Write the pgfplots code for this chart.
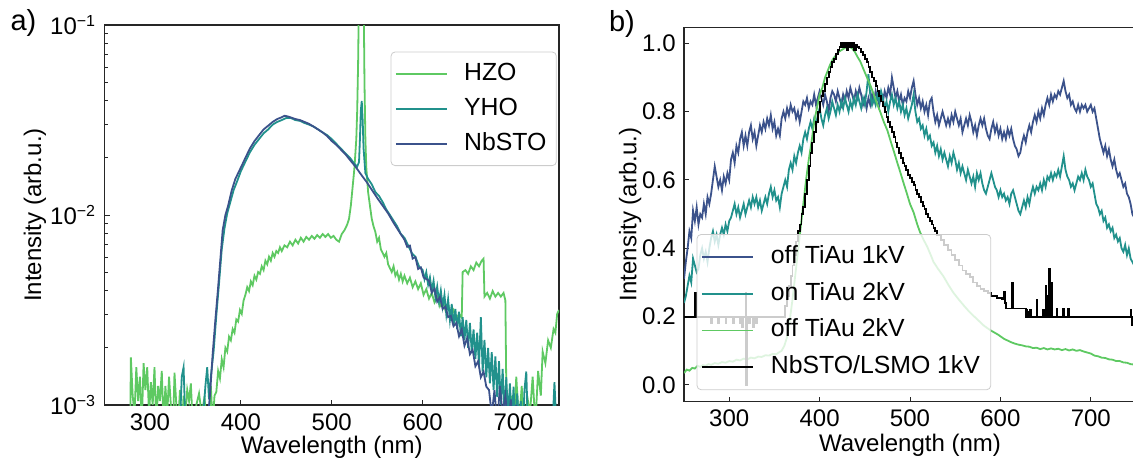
\documentclass[border=0pt]{standalone}
\usepackage{fontspec}
\setmainfont{Liberation Sans}
\usepackage{pgfplots}
\pgfplotsset{compat=1.18}

\definecolor{vblue}{HTML}{3B528B}
\definecolor{vteal}{HTML}{21918C}
\definecolor{vgreen}{HTML}{5EC962}

\pgfplotsset{
  panel/.style={
    scale only axis,
    anchor=south west,
    xmin=250, xmax=750,
    xtick={300,400,500,600,700},
    tick pos=left,
    tick align=inside,
    major tick length=2.6pt,
    minor tick length=1.5pt,
    axis line style={black!85, line width=0.6pt},
    every tick/.style={black!85, line width=0.5pt},
    /pgf/number format/assume math mode=true,
    xlabel={Wavelength (nm)},
    ylabel={Intensity (arb.u.)},
    legend cell align=left,
    legend image code/.code={\draw[##1, line width=0.9pt] (0cm,0cm) -- (0.9cm,0cm);},
    legend style={draw=black!20, fill=white, fill opacity=0.8, text opacity=1,
      rounded corners=2pt, inner sep=2pt, font=\fontsize{12.4}{14}\selectfont,
      nodes={inner sep=3pt, text height=9pt, text depth=2.6pt},
      /tikz/every odd column/.append style={column sep=5pt}},
    every axis plot/.append style={line width=0.9pt},
  },
}

\begin{document}
\fontsize{12}{14}\selectfont
\begin{tikzpicture}[x=1pt,y=1pt]
\useasboundingbox (0,0) rectangle (566.5,230.5);

\node[font=\fontsize{14.5}{16}\selectfont] at (11.75,219) {a)};
\node[font=\fontsize{14.5}{16}\selectfont] at (311,218.75) {b)};

% ---------------- a) log panel ----------------
\begin{axis}[panel,
  at={(52.25pt,28pt)}, width=227.25pt, height=190pt,
  ymode=log, ymin=1e-3, ymax=1e-1,
  ytick={1e-3,1e-2,1e-1},
  yticklabels={10\textsuperscript{−3},10\textsuperscript{−2},10\textsuperscript{−1}},
  minor ytick={2e-3,3e-3,4e-3,5e-3,6e-3,7e-3,8e-3,9e-3,2e-2,3e-2,4e-2,5e-2,6e-2,7e-2,8e-2,9e-2},
  xlabel style={at={(axis description cs:0.5,-0.1105)}, anchor=center},
  ylabel style={at={(axis description cs:-0.153,0.5)}, anchor=center},
  legend style={at={(0.995,0.93)}, anchor=north east},
]
% HZO
\addplot[vgreen] coordinates {
(278,5.0e-4) (279,1.78e-3) (281,1.12e-3) (283,8.9e-4) (285,1.58e-3) (287,1.05e-3) (289,1.41e-3) (291,7.9e-4)
(293,1.66e-3) (295,1.2e-3) (297,1.58e-3) (299,8.9e-4) (301,1.32e-3) (303,1.0e-3) (305,1.58e-3) (307,7.9e-4)
(309,1.26e-3) (311,1.05e-3) (313,1.51e-3) (315,7.9e-4) (317,1.26e-3) (319,8.9e-4) (321,1.41e-3) (323,1.0e-3)
(325,6.3e-4) (327,1.48e-3) (329,1.0e-3) (331,7.9e-4) (333,1.2e-3) (335,7.1e-4) (337,1.12e-3) (339,8.9e-4)
(341,1.2e-3) (343,1.05e-3) (345,1.3e-3) (348,6.3e-4) (351,1.0e-3) (354,1.15e-3) (357,8.9e-4) (360,1.1e-3)
(363,7.5e-4) (365,7.1e-4) (367,1.26e-3) (369,7.9e-4) (371,1.12e-3) (373,1.17e-3) (375,1.51e-3) (377,1.38e-3)
(379,1.74e-3) (381,1.58e-3) (383,2.0e-3) (385,1.91e-3) (387,2.29e-3) (389,2.19e-3) (391,2.51e-3) (393,2.4e-3)
(395,2.82e-3) (397,2.75e-3) (399,3.16e-3) (401,3.02e-3) (403,3.55e-3) (405,3.8e-3) (407,4.17e-3) (409,3.98e-3)
(411,4.47e-3) (413,4.27e-3) (415,4.79e-3) (417,4.57e-3) (419,5.01e-3) (421,4.9e-3) (423,5.37e-3) (425,5.13e-3)
(427,5.75e-3) (429,5.5e-3) (431,6.03e-3) (433,5.75e-3) (435,6.31e-3) (437,6.03e-3) (439,6.46e-3) (441,6.31e-3)
(443,6.76e-3) (445,6.46e-3) (448,6.92e-3) (451,6.76e-3) (454,7.24e-3) (457,6.92e-3) (460,7.41e-3) (463,7.08e-3)
(466,7.59e-3) (469,7.24e-3) (472,7.67e-3) (475,7.41e-3) (478,7.76e-3) (481,7.5e-3) (484,7.85e-3) (487,7.59e-3)
(490,7.94e-3) (493,7.67e-3) (496,7.94e-3) (499,7.59e-3) (502,7.76e-3) (505,7.41e-3) (508,7.24e-3) (511,7.94e-3)
(514,8.32e-3) (517,8.91e-3) (519,9.55e-3) (521,1.12e-2) (523,1.41e-2) (525,1.78e-2) (527,2.51e-2) (528,3.55e-2)
(529,6.31e-2) (530,0.158) (531,0.316) (534,0.316) (535,0.158) (536,5.01e-2) (537,2.51e-2) (538,1.78e-2)
(540,1.32e-2) (542,1.12e-2) (544,9.55e-3) (546,8.71e-3) (548,8.13e-3) (550,7.24e-3) (552,7.59e-3) (554,6.61e-3)
(556,6.31e-3) (558,6.03e-3) (560,6.31e-3) (562,5.5e-3) (564,5.25e-3) (566,5.01e-3) (568,5.37e-3) (570,4.79e-3)
(572,5.01e-3) (574,4.57e-3) (576,4.9e-3) (578,4.47e-3) (580,4.79e-3) (583,4.37e-3) (586,4.68e-3) (589,4.17e-3)
(592,4.47e-3) (595,4.07e-3) (598,4.37e-3) (601,3.8e-3) (604,4.07e-3) (607,3.63e-3) (610,3.89e-3) (613,3.47e-3)
(616,3.72e-3) (619,3.31e-3) (622,3.55e-3) (625,3.16e-3) (628,3.39e-3) (631,2.95e-3) (634,3.16e-3) (637,2.82e-3)
(640,3.02e-3) (643,2.88e-3) (644,5.01e-3) (647,5.13e-3) (650,4.9e-3) (653,5.37e-3) (656,5.13e-3) (659,5.62e-3)
(662,5.37e-3) (665,5.75e-3) (667,5.89e-3) (668,3.72e-3) (671,3.89e-3) (674,3.63e-3) (677,3.98e-3) (680,3.72e-3)
(683,3.89e-3) (686,3.72e-3) (689,3.89e-3) (691,3.55e-3) (692,1.26e-3) (694,6.3e-4) (697,1.12e-3) (700,7.1e-4)
(703,1.41e-3) (706,7.9e-4) (709,1.26e-3) (712,6.3e-4) (715,1.12e-3) (718,8.9e-4) (721,1.41e-3) (724,7.9e-4)
(727,1.51e-3) (730,1.12e-3) (732,1.91e-3) (735,1.66e-3) (738,2.19e-3) (741,2.0e-3) (744,2.51e-3) (746,2.4e-3)
(748,3.02e-3) (750,3.16e-3)
};
\addlegendentry{HZO}
% YHO
\addplot[vteal] coordinates {
(333,7.94e-4) (335,1.41e-3) (337,1.58e-3) (339,7.94e-4) (358,7.94e-4) (361,1.26e-3) (363,1.58e-3) (365,1.07e-3)
(367,1.41e-3) (370,1.91e-3) (373,2.95e-3) (376,4.37e-3) (379,6.61e-3) (382,8.51e-3) (385,1.02e-2) (388,1.15e-2)
(392,1.35e-2) (396,1.51e-2) (400,1.70e-2) (405,1.91e-2) (410,2.14e-2) (415,2.34e-2) (420,2.51e-2) (425,2.69e-2)
(430,2.82e-2) (435,2.99e-2) (440,3.09e-2) (445,3.16e-2) (450,3.24e-2) (455,3.24e-2) (460,3.16e-2) (465,3.13e-2)
(470,3.05e-2) (475,2.99e-2) (480,2.92e-2) (485,2.82e-2) (490,2.72e-2) (495,2.63e-2) (500,2.51e-2) (505,2.37e-2)
(510,2.24e-2) (515,2.11e-2) (520,2.0e-2) (525,1.86e-2) (528,1.8e-2) (530,1.9e-2) (531,2.51e-2) (532,3.55e-2)
(533,3.98e-2) (534,3.16e-2) (535,2.24e-2) (537,1.66e-2) (540,1.55e-2) (544,1.45e-2) (548,1.32e-2) (552,1.26e-2)
(556,1.17e-2) (560,1.07e-2) (564,1.0e-2) (568,9.33e-3) (572,8.71e-3) (576,7.94e-3) (580,7.59e-3) (584,6.92e-3)
(588,6.31e-3) (592,6.03e-3) (596,5.37e-3) (600,5.13e-3) (602,4.6e-3) (604,5.0e-3) (606,4.3e-3) (608,4.7e-3)
(610,4.0e-3) (612,4.5e-3) (614,3.7e-3) (616,4.2e-3) (618,3.5e-3) (620,4.0e-3) (622,3.3e-3) (624,3.8e-3)
(626,3.0e-3) (628,3.6e-3) (630,2.8e-3) (632,3.4e-3) (634,2.6e-3) (636,3.2e-3) (638,2.5e-3) (640,3.1e-3)
(642,2.3e-3) (644,2.9e-3) (646,2.2e-3) (648,2.8e-3) (650,2.0e-3) (652,2.7e-3) (654,1.9e-3) (656,2.5e-3)
(658,1.75e-3) (660,2.4e-3) (662,1.6e-3) (664,2.9e-3) (666,1.5e-3) (668,2.2e-3) (670,1.4e-3) (672,2.0e-3)
(674,1.3e-3) (676,1.9e-3) (678,1.2e-3) (680,1.8e-3) (682,1.1e-3) (684,1.7e-3) (686,1.0e-3) (688,1.55e-3)
(690,9e-4) (692,1.4e-3) (694,8.5e-4) (696,1.3e-3) (698,8e-4) (700,1.25e-3) (702,7.5e-4) (704,1.15e-3)
(706,8e-4) (708,1.05e-3) (710,7e-4) (712,1.2e-3) (714,1.5e-3) (716,7e-4) (720,9e-4) (724,6.5e-4)
(728,8e-4) (732,6.5e-4) (736,8e-4) (740,7e-4) (743,8e-4) (745,1.32e-3) (747,7.9e-4) (750,8.9e-4)
};
\addlegendentry{YHO}
% NbSTO
\addplot[vblue] coordinates {
(364,8.9e-4) (366,1.12e-3) (369,1.86e-3) (372,2.82e-3) (375,4.17e-3) (378,6.31e-3) (380,8.32e-3) (383,1.0e-2)
(386,1.12e-2) (390,1.35e-2) (394,1.55e-2) (397,1.66e-2) (401,1.82e-2) (405,2.0e-2) (410,2.24e-2) (415,2.45e-2)
(420,2.63e-2) (425,2.82e-2) (430,2.95e-2) (435,3.09e-2) (440,3.2e-2) (445,3.27e-2) (448,3.33e-2) (452,3.3e-2)
(456,3.25e-2) (460,3.2e-2) (465,3.16e-2) (470,3.09e-2) (475,3.02e-2) (480,2.92e-2) (485,2.82e-2) (490,2.72e-2)
(495,2.6e-2) (500,2.45e-2) (505,2.34e-2) (510,2.21e-2) (515,2.09e-2) (520,1.95e-2) (526,1.8e-2) (532,1.64e-2)
(538,1.5e-2) (544,1.36e-2) (550,1.23e-2) (556,1.12e-2) (562,1.02e-2) (568,9.1e-3) (574,8.2e-3) (580,7.41e-3)
(583,6.8e-3) (586,6.9e-3) (589,5.9e-3) (592,6.0e-3) (595,5.2e-3) (598,5.3e-3) (601,4.7e-3) (604,4.6e-3)
(607,4.5e-3) (610,3.9e-3) (613,4.1e-3) (616,3.5e-3) (619,3.7e-3) (622,3.2e-3) (625,3.3e-3) (628,2.9e-3)
(631,2.95e-3) (634,2.6e-3) (637,2.7e-3) (640,2.3e-3) (643,2.5e-3) (646,2.05e-3) (649,2.25e-3) (652,1.85e-3)
(655,1.95e-3) (658,1.6e-3) (661,1.7e-3) (664,1.4e-3) (667,1.5e-3) (670,1.25e-3) (673,1.2e-3) (676,8.9e-4)
(679,1.2e-3) (682,7.9e-4) (685,1.26e-3) (688,8.9e-4) (691,1.12e-3) (694,7.9e-4) (697,1.07e-3) (700,7.1e-4)
(703,1.0e-3) (706,6.3e-4)
};
\addlegendentry{NbSTO}
\end{axis}

% ---------------- b) linear panel ----------------
\begin{axis}[panel,
  at={(342pt,29.65pt)}, width=226pt, height=187.2pt,
  ymin=-0.049, ymax=1.047,
  ytick={0,0.2,0.4,0.6,0.8,1.0},
  yticklabel style={/pgf/number format/.cd, fixed, fixed zerofill, precision=1},
  xlabel style={at={(axis description cs:0.5,-0.1157)}, anchor=center},
  ylabel style={at={(axis description cs:-0.119,0.5)}, anchor=center},
  legend style={at={(0.028,0.031)}, anchor=south west,
    nodes={inner sep=3.4pt}},
]
% off TiAu 1kV
\addplot[vblue] coordinates {
(250,0.31) (252,0.36) (254,0.40) (256,0.45) (258,0.43) (260,0.51) (262,0.48) (264,0.52) (266,0.47) (268,0.50)
(270,0.49) (272,0.53) (274,0.50) (276,0.55) (278,0.53) (280,0.56) (282,0.60) (284,0.64) (286,0.61) (288,0.58)
(290,0.60) (292,0.57) (294,0.61) (296,0.59) (298,0.62) (300,0.60) (302,0.66) (304,0.68) (306,0.65) (308,0.70)
(310,0.68) (312,0.72) (314,0.74) (316,0.70) (318,0.73) (320,0.70) (322,0.74) (324,0.76) (326,0.72) (328,0.74)
(330,0.70) (332,0.73) (334,0.76) (336,0.74) (338,0.77) (340,0.75) (342,0.78) (344,0.76) (346,0.79) (348,0.75)
(350,0.77) (352,0.73) (354,0.75) (356,0.73) (358,0.78) (360,0.80) (362,0.78) (364,0.81) (366,0.79) (368,0.82)
(370,0.80) (372,0.81) (374,0.78) (376,0.80) (378,0.77) (380,0.80) (382,0.83) (384,0.82) (386,0.84) (388,0.81)
(390,0.83) (392,0.82) (394,0.85) (396,0.82) (398,0.84) (400,0.86) (402,0.84) (404,0.82) (406,0.85) (408,0.83)
(410,0.80) (412,0.84) (414,0.86) (416,0.85) (418,0.83) (420,0.86) (422,0.84) (424,0.82) (426,0.85) (428,0.83)
(430,0.86) (432,0.84) (434,0.87) (436,0.85) (438,0.83) (440,0.86) (442,0.84) (444,0.87) (446,0.85) (448,0.82)
(450,0.84) (452,0.81) (454,0.84) (456,0.82) (458,0.85) (460,0.83) (462,0.86) (464,0.84) (466,0.82) (468,0.85)
(470,0.83) (472,0.86) (474,0.84) (476,0.87) (478,0.85) (480,0.90) (482,0.87) (484,0.84) (486,0.86) (488,0.83)
(490,0.85) (492,0.82) (494,0.84) (496,0.83) (498,0.86) (500,0.84) (502,0.87) (504,0.89) (506,0.85) (508,0.82)
(510,0.84) (512,0.81) (514,0.83) (516,0.80) (518,0.82) (520,0.79) (522,0.83) (524,0.84) (526,0.80) (528,0.77)
(530,0.79) (532,0.76) (534,0.78) (536,0.80) (538,0.78) (540,0.76) (542,0.78) (544,0.76) (546,0.79) (548,0.77)
(550,0.80) (552,0.78) (554,0.76) (556,0.78) (558,0.74) (560,0.76) (562,0.78) (564,0.76) (566,0.79) (568,0.77)
(570,0.74) (572,0.76) (574,0.73) (576,0.76) (578,0.78) (580,0.76) (582,0.78) (584,0.75) (586,0.73) (588,0.72)
(590,0.75) (592,0.77) (594,0.74) (596,0.76) (598,0.73) (600,0.75) (602,0.72) (604,0.74) (606,0.72) (608,0.75)
(610,0.73) (612,0.75) (614,0.72) (616,0.70) (618,0.69) (620,0.67) (622,0.68) (624,0.71) (626,0.73) (628,0.71)
(630,0.74) (632,0.76) (634,0.74) (636,0.77) (638,0.79) (640,0.77) (642,0.80) (644,0.78) (646,0.81) (648,0.79)
(650,0.82) (652,0.84) (654,0.82) (656,0.85) (658,0.83) (660,0.85) (662,0.84) (664,0.86) (666,0.85) (668,0.87)
(670,0.89) (672,0.86) (674,0.84) (676,0.85) (678,0.82) (680,0.83) (682,0.81) (684,0.80) (686,0.82) (688,0.80)
(690,0.82) (692,0.81) (694,0.82) (696,0.80) (698,0.81) (700,0.82) (702,0.80) (704,0.81) (706,0.78) (708,0.75)
(710,0.72) (712,0.70) (714,0.68) (716,0.70) (718,0.67) (720,0.69) (722,0.66) (724,0.64) (726,0.66) (728,0.63)
(730,0.61) (732,0.62) (734,0.60) (736,0.58) (738,0.59) (740,0.56) (742,0.55) (744,0.53) (746,0.50) (748,0.49)
(750,0.47)
};
\addlegendentry{off TiAu 1kV}
% on TiAu 2kV
\addplot[vteal] coordinates {
(250,0.24) (252,0.26) (254,0.29) (256,0.32) (258,0.30) (260,0.37) (262,0.35) (264,0.33) (266,0.34) (268,0.38)
(270,0.40) (272,0.37) (274,0.39) (276,0.36) (278,0.40) (280,0.43) (282,0.45) (284,0.42) (286,0.44) (288,0.41)
(290,0.44) (292,0.46) (294,0.44) (296,0.47) (298,0.45) (300,0.48) (302,0.49) (304,0.51) (306,0.53) (308,0.50)
(310,0.52) (312,0.49) (314,0.51) (316,0.53) (318,0.50) (320,0.52) (322,0.54) (324,0.52) (326,0.55) (328,0.53)
(330,0.55) (332,0.52) (334,0.54) (336,0.51) (338,0.53) (340,0.55) (342,0.53) (344,0.56) (346,0.58) (348,0.55)
(350,0.57) (352,0.54) (354,0.55) (356,0.52) (358,0.56) (360,0.58) (362,0.60) (364,0.58) (366,0.63) (368,0.65)
(370,0.63) (372,0.67) (374,0.65) (376,0.68) (378,0.70) (380,0.68) (382,0.72) (384,0.74) (386,0.72) (388,0.75)
(390,0.77) (392,0.75) (394,0.78) (396,0.76) (398,0.79) (400,0.81) (402,0.78) (404,0.76) (406,0.79) (408,0.81)
(410,0.78) (412,0.80) (414,0.83) (416,0.81) (418,0.79) (420,0.82) (422,0.80) (424,0.83) (426,0.81) (428,0.84)
(430,0.82) (432,0.80) (434,0.83) (436,0.81) (438,0.84) (440,0.82) (442,0.85) (444,0.83) (446,0.81) (448,0.84)
(450,0.82) (452,0.86) (454,0.91) (456,0.85) (458,0.82) (460,0.84) (462,0.82) (464,0.85) (466,0.83) (468,0.86)
(470,0.84) (472,0.81) (474,0.83) (476,0.80) (478,0.83) (480,0.85) (482,0.82) (484,0.84) (486,0.81) (488,0.83)
(490,0.80) (492,0.82) (494,0.79) (496,0.81) (498,0.78) (500,0.80) (502,0.82) (504,0.85) (506,0.80) (508,0.77)
(510,0.78) (512,0.75) (514,0.76) (516,0.73) (518,0.75) (520,0.72) (522,0.73) (524,0.70) (526,0.71) (528,0.68)
(530,0.70) (532,0.67) (534,0.69) (536,0.66) (538,0.68) (540,0.66) (542,0.64) (544,0.67) (546,0.65) (548,0.68)
(550,0.66) (552,0.63) (554,0.65) (556,0.62) (558,0.64) (560,0.62) (562,0.60) (564,0.63) (566,0.61) (568,0.59)
(570,0.61) (572,0.58) (574,0.62) (576,0.60) (578,0.62) (580,0.59) (582,0.57) (584,0.56) (586,0.58) (588,0.60)
(590,0.62) (592,0.60) (594,0.58) (596,0.57) (598,0.55) (600,0.57) (602,0.55) (604,0.56) (606,0.54) (608,0.55)
(610,0.53) (612,0.56) (614,0.57) (616,0.55) (618,0.53) (620,0.51) (622,0.50) (624,0.52) (626,0.54) (628,0.52)
(630,0.55) (632,0.53) (634,0.56) (636,0.58) (638,0.56) (640,0.58) (642,0.57) (644,0.59) (646,0.57) (648,0.60)
(650,0.58) (652,0.61) (654,0.60) (656,0.62) (658,0.60) (660,0.62) (662,0.61) (664,0.63) (666,0.61) (668,0.64)
(670,0.67) (672,0.63) (674,0.61) (676,0.60) (678,0.58) (680,0.59) (682,0.57) (684,0.59) (686,0.61) (688,0.60)
(690,0.62) (692,0.60) (694,0.63) (696,0.61) (698,0.60) (700,0.58) (702,0.59) (704,0.56) (706,0.53) (708,0.52)
(710,0.50) (712,0.51) (714,0.48) (716,0.49) (718,0.46) (720,0.47) (722,0.45) (724,0.46) (726,0.43) (728,0.44)
(730,0.42) (732,0.43) (734,0.40) (736,0.39) (738,0.41) (740,0.38) (742,0.40) (744,0.37) (746,0.36) (748,0.35)
(750,0.34)
};
\addlegendentry{on TiAu 2kV}
% off TiAu 2kV
\addplot[vgreen] coordinates {
(250,0.035) (253,0.045) (256,0.042) (259,0.05) (262,0.048) (265,0.056) (268,0.053) (271,0.058) (274,0.056)
(277,0.061) (280,0.059) (284,0.064) (288,0.062) (292,0.067) (296,0.065) (300,0.07) (304,0.068) (308,0.074)
(312,0.072) (316,0.077) (320,0.075) (324,0.08) (328,0.078) (332,0.083) (336,0.082) (340,0.087) (344,0.086)
(348,0.091) (352,0.09) (356,0.097) (358,0.10) (361,0.115) (364,0.14) (367,0.19)
(370,0.25) (373,0.32) (376,0.39) (379,0.46) (382,0.53) (385,0.6) (388,0.66) (391,0.71) (394,0.77) (397,0.81)
(400,0.85) (403,0.87) (406,0.90) (409,0.92) (412,0.94) (415,0.955) (418,0.965) (421,0.975) (424,0.98)
(427,0.985) (430,0.99) (433,0.99) (436,0.985) (439,0.975) (442,0.96) (445,0.947) (450,0.915) (456,0.878)
(460,0.85) (464,0.82) (467,0.80) (471,0.77) (475,0.745) (479,0.71) (482,0.685) (486,0.65) (489,0.625)
(493,0.59) (496,0.565) (500,0.53) (504,0.505) (508,0.47) (511,0.448) (515,0.425) (519,0.405) (523,0.38)
(526,0.36) (531,0.34) (537,0.318) (542,0.295) (548,0.27) (554,0.25) (560,0.231) (565,0.216) (570,0.203)
(576,0.188) (582,0.173) (589,0.16) (597,0.148) (604,0.135) (608,0.13) (612,0.125) (616,0.121) (620,0.118)
(624,0.116) (628,0.113) (632,0.112) (636,0.108) (640,0.109) (644,0.105) (648,0.108) (652,0.104) (656,0.107)
(660,0.104) (664,0.106) (668,0.102) (672,0.105) (676,0.101) (680,0.104) (684,0.1) (688,0.102) (692,0.098)
(696,0.095) (700,0.092) (704,0.086) (708,0.084) (712,0.08) (716,0.079) (720,0.075) (724,0.074) (728,0.07)
(732,0.07) (736,0.066) (740,0.065) (744,0.061) (747,0.06) (750,0.057)
};
\addlegendentry{off TiAu 2kV}
% NbSTO/LSMO 1kV
\addplot[black, const plot] coordinates {
(250,0.2) (262,0.27) (263,0.2) (280,0.18) (281,0.2) (288,0.18) (289,0.2) (296,0.18) (297,0.2) (304,0.18)
(305,0.2) (312,0.18) (313,0.2) (314,0.17) (315,0.2) (318,0.27) (319,0.0) (320,0.2) (322,0.18) (323,0.2)
(326,0.17) (327,0.2) (330,0.18) (331,0.2) (360,0.2) (362,0.23) (364,0.26) (366,0.29) (368,0.32) (370,0.35)
(372,0.38) (374,0.42) (376,0.45) (378,0.47) (380,0.50) (382,0.52) (384,0.56) (386,0.60) (388,0.64) (390,0.68)
(392,0.71) (394,0.74) (396,0.77) (398,0.80) (400,0.83) (402,0.845) (404,0.86) (406,0.88) (408,0.90) (410,0.915)
(412,0.93) (414,0.945) (416,0.955) (418,0.97) (420,0.98) (422,0.99) (424,1.0) (426,0.99) (428,1.0) (430,0.98)
(432,1.0) (434,0.99) (436,1.0) (438,0.98) (440,0.995) (442,0.99) (444,0.985) (446,0.975) (448,0.965) (450,0.955)
(452,0.945) (454,0.93) (456,0.915) (458,0.90) (460,0.89) (462,0.875) (464,0.86) (466,0.845) (468,0.83) (470,0.815)
(472,0.80) (474,0.785) (476,0.77) (478,0.755) (480,0.74) (482,0.725) (484,0.71) (486,0.695) (488,0.68) (490,0.665)
(492,0.65) (494,0.64) (496,0.63) (498,0.615) (500,0.605) (502,0.595) (504,0.585) (506,0.57) (508,0.56) (510,0.55)
(512,0.535) (514,0.525) (516,0.515) (518,0.50) (520,0.49) (522,0.48) (524,0.47) (526,0.46) (528,0.45) (530,0.44)
(534,0.425) (538,0.41) (542,0.395) (546,0.38) (550,0.365) (554,0.35) (558,0.335) (562,0.325) (566,0.315)
(570,0.30) (574,0.29) (578,0.28) (582,0.275) (586,0.27) (590,0.26) (596,0.255) (602,0.25) (604,0.273) (605,0.24)
(606,0.224) (613,0.30) (614,0.224) (628,0.20) (629,0.22) (630,0.2) (631,0.215) (632,0.2) (633,0.22) (634,0.2)
(640,0.25) (641,0.2) (647,0.22) (648,0.2) (650,0.29) (651,0.2) (652,0.26) (653,0.2) (654,0.34) (655,0.2)
(656,0.3) (657,0.2) (662,0.222) (663,0.2) (669,0.222) (670,0.2) (675,0.222) (676,0.2) (744,0.22) (745,0.175)
(746,0.2) (750,0.2)
};
\addlegendentry{NbSTO/LSMO 1kV}
\end{axis}
\end{tikzpicture}
\end{document}
